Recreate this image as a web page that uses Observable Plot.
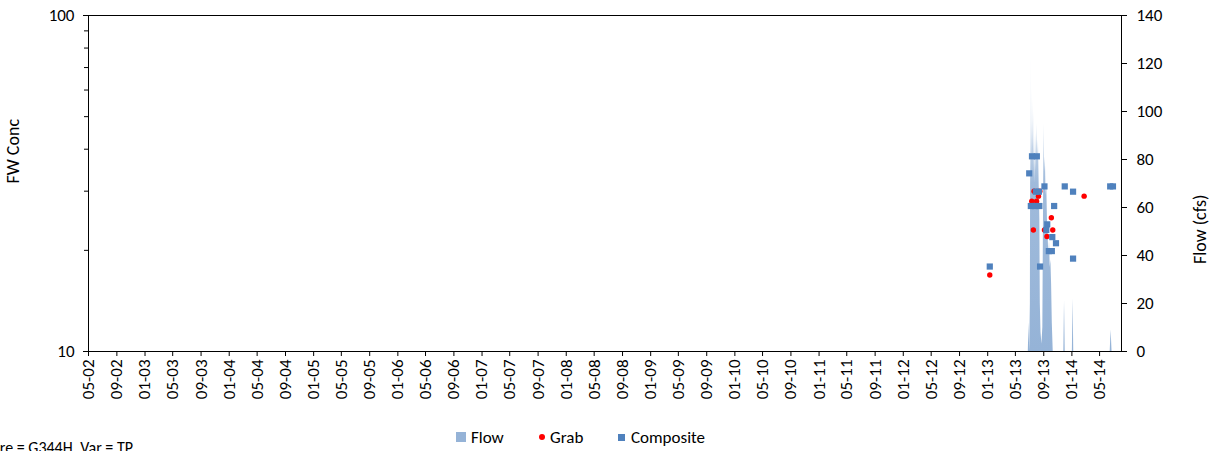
<!DOCTYPE html>
<html>
<head>
<meta charset="utf-8">
<script src="https://cdn.jsdelivr.net/npm/d3@7"></script>
<script src="https://cdn.jsdelivr.net/npm/@observablehq/plot@0.6"></script>
<style>
  html, body { margin: 0; padding: 0; background: #fff; overflow: hidden; }
  body { width: 1214px; height: 451px; position: relative; font-family: Carlito, Lato, sans-serif; color: #000; }
  #legend { position: absolute; top: 427px; left: 0; width: 1214px; height: 20px; font-size: 17px; }
  .li { position: absolute; top: 0; display: flex; align-items: center; height: 20px; }
  .sw { display: inline-block; margin-right: 5px; }
  #caption { position: absolute; left: 0; top: 438px; font-size: 16px; white-space: nowrap; }
  #caption span { position: absolute; right: -133px; }
</style>
</head>
<body>
<div id="chart"></div>
<div id="legend">
  <div class="li" style="left:456px"><span class="sw" style="width:10px;height:10px;background:#95B3D7"></span>Flow</div>
  <div class="li" style="left:539px"><span class="sw" style="width:6px;height:6px;border-radius:50%;background:#FF0000"></span>Grab</div>
  <div class="li" style="left:618px"><span class="sw" style="width:7px;height:7px;background:#4F81BD;margin-right:6px"></span>Composite</div>
</div>
<div id="caption"><span>Structure = G344H, Var = TP</span></div>
<script>
// ---- data ----
const compositeDates = ["2013-01-10","2013-06-30","2013-07-12","2013-08-02","2013-07-29","2013-08-11",
  "2013-07-07","2013-07-25","2013-08-13","2013-09-04","2013-10-16","2013-09-16","2013-09-12",
  "2013-10-08","2013-10-24","2013-09-23","2013-10-06","2013-08-16","2013-12-01","2014-01-06",
  "2014-01-06","2014-06-16","2014-06-28"];
const compositeValues = [17.9, 33.9, 38.1, 38.1, 29.9, 29.9,
  27.1, 27.1, 27.1, 31.0, 27.1, 23.9, 23.0,
  21.9, 21.0, 19.9, 19.9, 17.9, 31.0, 29.9,
  18.9, 31.0, 31.0];

const grabDates = ["2013-01-10","2013-07-21","2013-08-15","2013-08-09","2013-07-11","2013-08-01",
  "2013-10-04","2013-07-18","2013-10-10","2013-09-04","2013-09-15","2014-02-23"];
const grabValues = [16.9, 30.0, 30.0, 29.0, 28.0, 28.0, 25.0, 23.0, 23.0, 23.0, 22.0, 29.0];

const flowDates = ["2002-05-01","2013-06-26","2013-06-29","2013-07-02","2013-07-05","2013-07-07","2013-07-09",
  "2013-07-11","2013-07-13","2013-07-15","2013-07-17","2013-07-19","2013-07-21","2013-07-23","2013-07-26",
  "2013-07-28","2013-07-31","2013-08-03","2013-08-06","2013-08-09","2013-08-12","2013-08-15","2013-08-17",
  "2013-08-20","2013-08-24","2013-08-28","2013-08-31","2013-09-02","2013-09-05","2013-09-08","2013-09-11",
  "2013-09-14","2013-09-17","2013-09-20","2013-09-23","2013-09-26","2013-09-29","2013-10-02","2013-10-05",
  "2013-10-08","2013-10-12","2013-11-27","2013-11-30","2013-12-03","2014-01-03","2014-01-06","2014-01-09",
  "2014-06-16","2014-06-20","2014-06-24","2014-08-04"];
const flowValues = [0,0,12,0,20,124,70,
  110,80,105,85,100,75,90,70,
  91,75,95,80,88,70,55,20,
  8,3,10,60,95,75,81,65,
  70,55,48,40,46,35,38,28,
  12,0,0,21,0,0,22,0,
  0,9,0,0];

const flowTickValues = [0, 20, 40, 60, 80, 100, 120, 140];
const concMajorTicks = [10, 100];
const concMinorTicks = [20, 30, 40, 50, 60, 70, 80, 90];
const xStart = "2002-05-01", xEnd = "2014-08-04", lastTick = "2014-05-01";
const leftTitle = "FW Conc", rightTitle = "Flow (cfs)";

// ---- build ----
const parse = d3.utcParse("%Y-%m-%d");
const composite = compositeDates.map((d, i) => ({date: parse(d), value: compositeValues[i]}));
const grab = grabDates.map((d, i) => ({date: parse(d), value: grabValues[i]}));
const flow = flowDates.map((d, i) => ({date: parse(d), flow: flowValues[i]}));
// flow (0..140 cfs) is mapped onto the log conc scale (10..100)
const flowToY = f => Math.pow(10, 1 + f / 140);
const yToFlow = y => Math.round((Math.log10(y) - 1) * 140);
const xTicks = d3.utcMonth.every(4).range(parse(xStart), d3.utcDay.offset(parse(lastTick), 1));

const defs = () => {
  const svg = d3.create("svg:g");
  const g = svg.append("defs").append("linearGradient")
    .attr("id", "flowGrad").attr("gradientUnits", "userSpaceOnUse")
    .attr("x1", 0).attr("x2", 0).attr("y1", 351).attr("y2", 45);
  g.append("stop").attr("offset", 0).attr("stop-color", "#95B3D7").attr("stop-opacity", 1);
  g.append("stop").attr("offset", 0.55).attr("stop-color", "#95B3D7").attr("stop-opacity", 0.9);
  g.append("stop").attr("offset", 0.75).attr("stop-color", "#95B3D7").attr("stop-opacity", 0.35);
  g.append("stop").attr("offset", 1).attr("stop-color", "#95B3D7").attr("stop-opacity", 0.08);
  return svg.node();
};

const chart = Plot.plot({
  width: 1214,
  height: 405,
  marginTop: 15,
  marginBottom: 54,
  marginLeft: 88,
  marginRight: 93,
  style: {fontFamily: "Carlito, Lato, sans-serif", fontSize: "17px", color: "#000", background: "#fff", overflow: "visible"},
  x: {type: "utc", domain: [parse(xStart), parse(xEnd)]},
  y: {type: "log", domain: [10, 100]},
  marks: [
    defs,
    Plot.areaY(flow, {x: "date", y1: () => 10, y2: d => flowToY(d.flow), fill: "url(#flowGrad)", curve: "linear"}),
    Plot.frame({stroke: "#000", strokeWidth: 1}),
    Plot.axisX({ticks: xTicks, tickFormat: d3.utcFormat("%m-%y"), tickRotate: -90, tickSize: 5, tickPadding: 3, label: null, fontSize: 17}),
    Plot.axisY({anchor: "left", ticks: concMajorTicks, tickFormat: d => String(d), tickSize: 5, tickPadding: 9, label: null, fontSize: 17}),
    Plot.axisY({anchor: "left", ticks: concMinorTicks, tickFormat: () => "", tickSize: 4, label: null}),
    Plot.axisY({anchor: "right", ticks: flowTickValues.map(flowToY), tickFormat: yToFlow, tickSize: 5, tickPadding: 10, label: null, fontSize: 17}),
    Plot.text([leftTitle], {frameAnchor: "left", dx: -75, rotate: -90, text: d => d, fontSize: 18}),
    Plot.text([rightTitle], {frameAnchor: "right", dx: 79, dy: 11, rotate: -90, text: d => d, fontSize: 18}),
    Plot.dot(grab, {x: "date", y: "value", r: 2.7, fill: "#FF0000", stroke: "none"}),
    Plot.dot(composite, {x: "date", y: "value", symbol: "square", r: 3.5, fill: "#4F81BD", stroke: "none"})
  ]
});
document.getElementById("chart").appendChild(chart);
</script>
</body>
</html>
